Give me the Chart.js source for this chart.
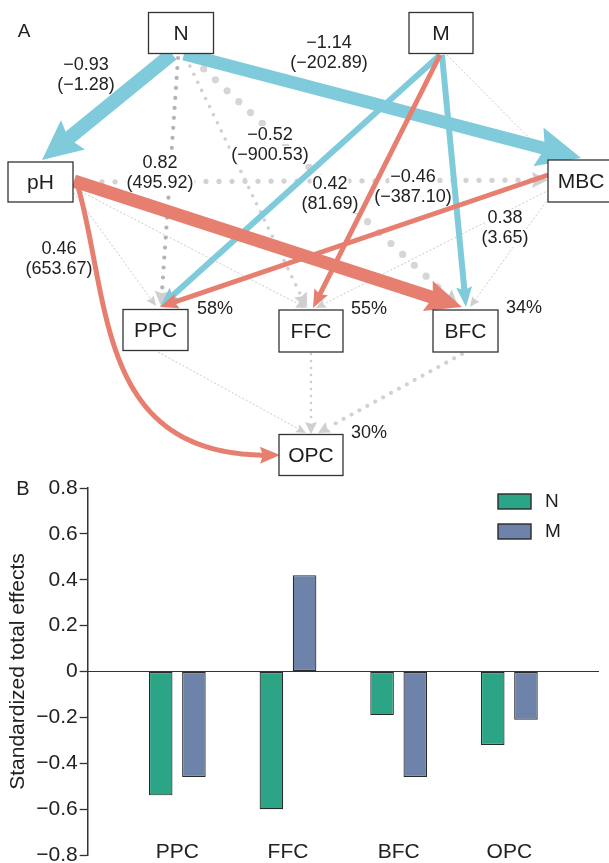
<!DOCTYPE html>
<html>
<head>
<meta charset="utf-8">
<script src="https://cdn.jsdelivr.net/npm/chart.js@4/dist/chart.umd.min.js"></script>
<style>
  html, body { margin: 0; padding: 0; background: #fff; width: 609px; height: 863px; overflow: hidden; }
  #pathCanvas { position: absolute; left: 0; top: 0; }
  #barCanvas  { position: absolute; left: 0; top: 470px; background: transparent; }
</style>
</head>
<body>
<canvas id="pathCanvas" width="609" height="480"></canvas>
<canvas id="barCanvas" width="609" height="393"></canvas>
<script>
// ===== Panel B: standardized total effects of N and M =====
const responses = ['PPC', 'FFC', 'BFC', 'OPC'];
const effectN = [-0.54, -0.60, -0.19, -0.32];
const effectM = [-0.46, 0.42, -0.46, -0.21];
const yTicks = [-0.8, -0.6, -0.4, -0.2, 0, 0.2, 0.4, 0.6, 0.8];

// ===== Panel A: structural equation path model =====
const nodeNames = ['N', 'M', 'pH', 'MBC', 'PPC', 'FFC', 'BFC', 'OPC'];
const r2Nodes = ['PPC', 'FFC', 'BFC', 'OPC'];
const r2Percent = [58, 55, 34, 30];
const pathFrom = ['N', 'N', 'M', 'M', 'pH', 'M', 'MBC', 'pH',
                  'N', 'N', 'N', 'pH', 'FFC', 'BFC',
                  'M', 'pH', 'pH', 'MBC', 'MBC', 'PPC'];
const pathTo   = ['pH', 'MBC', 'PPC', 'BFC', 'BFC', 'FFC', 'PPC', 'OPC',
                  'PPC', 'FFC', 'BFC', 'MBC', 'OPC', 'OPC',
                  'MBC', 'PPC', 'FFC', 'FFC', 'BFC', 'OPC'];
// standardized and (unstandardized) coefficients; null = non-significant path
const pathStd   = [-0.93, -1.14, -0.52, -0.46, 0.82, 0.42, 0.38, 0.46,
                   null, null, null, null, null, null, null, null, null, null, null, null];
const pathUnstd = [-1.28, -202.89, -900.53, -387.10, 495.92, 81.69, 3.65, 653.67,
                   null, null, null, null, null, null, null, null, null, null, null, null];

// ----- diagram layout (diagram units map 1:1 onto the canvas) -----
const FONT = '"Liberation Sans", Arial, Helvetica, sans-serif';
const BLUE = '#80cbdb', RED = '#e67f6f', HEADGREY = '#cfcfd2';
const nodeBox = {            // cx, cy, w, h
  N:   [181, 33, 65, 41],
  M:   [441, 33, 64, 41],
  pH:  [40.5, 182, 65, 40],
  MBC: [581, 181, 66, 42],
  PPC: [155.5, 330, 65, 41],
  FFC: [311, 331, 64, 42],
  BFC: [465.5, 331, 65, 42],
  OPC: [311, 455, 64, 41]
};
const pathStyle = [
  { p: [172, 54, 42, 160],  w: 14, head: [40, 38] },
  { p: [184, 54, 581, 158], w: 13, head: [44, 40] },
  { p: [440, 55, 160, 307], w: 6,  head: [20, 16] },
  { p: [442, 55, 466, 307], w: 6,  head: [20, 16] },
  { p: [74, 181, 462, 307], w: 13, head: [36, 32] },
  { p: [440, 55, 313, 308], w: 5,  head: [18, 15] },
  { p: [548, 175, 160, 307], w: 5, head: [18, 15] },
  { p: [77, 183, 280, 455], c: [112, 305, 95, 462], w: 5, head: [20, 17] },
  { p: [178, 58, 161, 306], dot: [2.1, 10], col: '#b4b4b8', head: [15, 15] },
  { p: [186, 58, 307, 308], dot: [1.8, 9],  col: '#d0d0d2', head: [15, 14] },
  { p: [192, 58, 458, 306], dot: [3.6, 16], col: '#d6d6d8', head: [16, 16] },
  { p: [76, 182, 548, 180], dot: [2.6, 13], col: '#d2d2d4', head: [16, 16] },
  { p: [311, 354, 311, 434], dot: [1.3, 7], col: '#cdcdcf', head: [12, 12] },
  { p: [462, 354, 318, 433], dot: [2.1, 9], col: '#d2d2d4', head: [12, 12] },
  { p: [447, 55, 551, 160], thin: true, head: [10, 9] },
  { p: [74, 193, 156, 306], thin: true, head: [10, 9] },
  { p: [74, 188, 306, 308], thin: true, head: [10, 9] },
  { p: [549, 190, 316, 308], thin: true, head: [10, 9] },
  { p: [551, 195, 470, 307], thin: true, head: [10, 9] },
  { p: [158, 352, 306, 433], thin: true, head: [10, 9] }
];
const coefLabelPos = [[86, 75], [329, 53], [270, 145], [413, 187], [160, 173], [330, 194], [505, 228], [59, 259]];
const r2LabelPos = { PPC: [215, 309], FFC: [369, 309], BFC: [524, 308], OPC: [369, 433] };

function fmt(v) { return (v < 0 ? '\u2212' : '') + Math.abs(v).toFixed(2); }

const pathDiagram = {
  id: 'pathDiagram',
  afterDatasetsDraw(chart) {
    const ctx = chart.ctx;
    const sx = v => chart.scales.x.getPixelForValue(v);
    const sy = v => chart.scales.y.getPixelForValue(v);
    const P = (x, y) => [sx(x), sy(y)];

    function head(tip, dir, L, W, color) {
      const bx = tip[0] - dir[0] * L, by = tip[1] - dir[1] * L;
      const nx = -dir[1], ny = dir[0];
      ctx.beginPath();
      ctx.moveTo(tip[0], tip[1]);
      ctx.lineTo(bx + nx * W / 2, by + ny * W / 2);
      ctx.lineTo(tip[0] - dir[0] * L * 0.85, tip[1] - dir[1] * L * 0.85);
      ctx.lineTo(bx - nx * W / 2, by - ny * W / 2);
      ctx.closePath();
      ctx.fillStyle = color;
      ctx.fill();
    }

    function drawPath(i, pass) {
      const s = pathStyle[i];
      const std = pathStd[i];
      const a = P(s.p[0], s.p[1]), b = P(s.p[2], s.p[3]);
      const solid = std !== null;
      if ((pass === 0) === solid) return;
      const color = solid ? (std < 0 ? BLUE : RED) : (s.col || '#c4c4c6');
      const [L, W] = s.head;
      ctx.save();
      if (s.c) {
        const c1 = P(s.c[0], s.c[1]), c2 = P(s.c[2], s.c[3]);
        const pts = [];
        for (let k = 0; k <= 200; k++) {
          const t = k / 200, u = 1 - t;
          pts.push([u*u*u*a[0] + 3*u*u*t*c1[0] + 3*u*t*t*c2[0] + t*t*t*b[0],
                    u*u*u*a[1] + 3*u*u*t*c1[1] + 3*u*t*t*c2[1] + t*t*t*b[1]]);
        }
        ctx.beginPath();
        ctx.moveTo(pts[0][0], pts[0][1]);
        let last = pts[0];
        for (const q of pts) {
          if (Math.hypot(b[0] - q[0], b[1] - q[1]) < L * 0.8) break;
          ctx.lineTo(q[0], q[1]); last = q;
        }
        ctx.strokeStyle = color; ctx.lineWidth = s.w; ctx.lineJoin = 'round';
        ctx.stroke();
        const d = Math.hypot(b[0] - last[0], b[1] - last[1]);
        head(b, [(b[0] - last[0]) / d, (b[1] - last[1]) / d], L, W, color);
        ctx.restore();
        return;
      }
      const len = Math.hypot(b[0] - a[0], b[1] - a[1]);
      const dir = [(b[0] - a[0]) / len, (b[1] - a[1]) / len];
      const end = len - L * 0.8;
      if (solid) {
        ctx.beginPath();
        ctx.moveTo(a[0], a[1]);
        ctx.lineTo(a[0] + dir[0] * end, a[1] + dir[1] * end);
        ctx.strokeStyle = color; ctx.lineWidth = s.w; ctx.lineCap = 'butt';
        ctx.stroke();
        head(b, dir, L, W, color);
      } else if (s.dot) {
        const [r, gap] = s.dot;
        ctx.fillStyle = color;
        for (let d = 0; d <= len - L; d += gap) {
          ctx.beginPath();
          ctx.arc(a[0] + dir[0] * d, a[1] + dir[1] * d, r, 0, Math.PI * 2);
          ctx.fill();
        }
        head(b, dir, L, W, HEADGREY);
      } else {
        ctx.beginPath();
        ctx.setLineDash([2, 2]);
        ctx.moveTo(a[0], a[1]);
        ctx.lineTo(a[0] + dir[0] * (len - L * 0.8), a[1] + dir[1] * (len - L * 0.8));
        ctx.strokeStyle = '#c4c4c7'; ctx.lineWidth = 0.9;
        ctx.stroke();
        head(b, dir, L, W, HEADGREY);
      }
      ctx.restore();
    }

    // text helper with white backing
    function label(txt, x, y, size) {
      ctx.font = size + 'px ' + FONT;
      const w = ctx.measureText(txt).width;
      ctx.fillStyle = '#fff';
      ctx.fillRect(x - w / 2 - 1, y - size * 0.5, w + 2, size);
      ctx.fillStyle = '#222';
      ctx.textAlign = 'center';
      ctx.textBaseline = 'middle';
      ctx.fillText(txt, x, y);
    }

    // non-significant paths underneath
    for (let i = 0; i < pathFrom.length; i++) drawPath(i, 0);

    // coefficient labels
    for (let i = 0; i < pathStd.length; i++) {
      if (pathStd[i] === null) continue;
      const [x, y] = P(coefLabelPos[i][0], coefLabelPos[i][1]);
      label(fmt(pathStd[i]), x, y - 10, 18);
      label('(' + fmt(pathUnstd[i]) + ')', x, y + 10, 18);
    }

    // significant paths on top
    for (let i = 0; i < pathFrom.length; i++) drawPath(i, 1);

    // nodes
    ctx.save();
    for (const name of nodeNames) {
      const [cx, cy, w, h] = nodeBox[name];
      const [x0, y0] = P(cx - w / 2, cy - h / 2);
      const [x1, y1] = P(cx + w / 2, cy + h / 2);
      ctx.fillStyle = '#fff';
      ctx.fillRect(x0, y0, x1 - x0, y1 - y0);
      ctx.strokeStyle = '#333'; ctx.lineWidth = 1.3;
      ctx.strokeRect(x0, y0, x1 - x0, y1 - y0);
      ctx.fillStyle = '#1e1e1e';
      ctx.font = '21px ' + FONT;
      ctx.textAlign = 'center'; ctx.textBaseline = 'middle';
      const [tx, ty] = P(cx, cy);
      ctx.fillText(name, tx, ty + 1);
    }
    ctx.restore();

    // explained variance
    r2Nodes.forEach((n, i) => {
      const [x, y] = P(r2LabelPos[n][0], r2LabelPos[n][1]);
      label(r2Percent[i] + '%', x, y, 18);
    });

    // panel letter
    ctx.fillStyle = '#222';
    ctx.font = '19px ' + FONT;
    ctx.textAlign = 'center'; ctx.textBaseline = 'middle';
    ctx.fillText('A', sx(24), sy(32));
  }
};

new Chart(document.getElementById('pathCanvas'), {
  type: 'scatter',
  data: {
    datasets: [{
      data: nodeNames.map(n => ({ x: nodeBox[n][0], y: nodeBox[n][1] })),
      pointRadius: 0
    }]
  },
  options: {
    responsive: false,
    animation: false,
    devicePixelRatio: 1,
    layout: { padding: 0 },
    plugins: { legend: { display: false }, tooltip: { enabled: false } },
    scales: {
      x: { type: 'linear', min: 0, max: 609, display: false },
      y: { type: 'linear', min: 0, max: 480, reverse: true, display: false }
    }
  },
  plugins: [pathDiagram]
});

// ----- Panel B -----
const seriesColors = { N: '#2ca586', M: '#6e83a9' };
const PAD_RIGHT = 10;

const panelB = {
  id: 'panelB',
  beforeDatasetsDraw(chart) {
    // zero reference line from the value axis to the right edge of the plot
    const ctx = chart.ctx;
    const ys = chart.scales.y;
    const y0 = ys.getPixelForValue(0);
    ctx.save();
    ctx.strokeStyle = '#333';
    ctx.lineWidth = 1.2;
    ctx.beginPath();
    ctx.moveTo(ys.right, y0);
    ctx.lineTo(chart.chartArea.right, y0);
    ctx.stroke();
    ctx.restore();
  },
  afterDraw(chart) {
    const ctx = chart.ctx;
    ctx.save();
    ctx.fillStyle = '#222';
    ctx.font = '20px ' + FONT;
    ctx.textAlign = 'center'; ctx.textBaseline = 'middle';
    ctx.fillText('B', 23, 19);
    // legend
    chart.data.datasets.forEach((ds, i) => {
      const y = 24 + i * 30;
      ctx.fillStyle = ds.backgroundColor;
      ctx.fillRect(498, y, 33, 15);
      ctx.strokeStyle = '#2a2a2a'; ctx.lineWidth = 1.4;
      ctx.strokeRect(498, y, 33, 15);
      ctx.fillStyle = '#1e1e1e';
      ctx.font = '19px ' + FONT;
      ctx.textAlign = 'left'; ctx.textBaseline = 'middle';
      ctx.fillText(ds.label, 545, y + 8);
    });
    ctx.restore();
  }
};

const toPoints = vals => vals.map((v, i) => ({ x: i + 1, y: v }));

new Chart(document.getElementById('barCanvas'), {
  type: 'bar',
  data: {
    datasets: [
      { label: 'N', data: toPoints(effectN), backgroundColor: seriesColors.N },
      { label: 'M', data: toPoints(effectM), backgroundColor: seriesColors.M }
    ]
  },
  options: {
    responsive: false,
    animation: false,
    devicePixelRatio: 1,
    layout: { padding: { left: 6, top: 18, right: PAD_RIGHT, bottom: 8 } },
    datasets: {
      bar: {
        categoryPercentage: 0.6,
        barPercentage: 0.71,
        borderColor: '#2a2a2a',
        borderWidth: 1.2,
        borderSkipped: false
      }
    },
    plugins: { legend: { display: false }, tooltip: { enabled: false } },
    scales: {
      x: {
        type: 'linear',
        min: 0.19,
        max: 4.81,
        offset: false,
        position: { y: -0.732 },
        afterBuildTicks: s => { s.ticks = responses.map((_, i) => ({ value: i + 1 })); },
        afterFit: s => { s.paddingLeft = 0; s.paddingRight = 0; },
        ticks: {
          callback: v => responses[Math.round(v) - 1] || '',
          font: { family: FONT, size: 21 },
          color: '#222',
          padding: 0,
          maxRotation: 0
        },
        grid: { display: false, drawTicks: false },
        border: { display: false }
      },
      y: {
        type: 'linear',
        min: -0.8,
        max: 0.8,
        afterBuildTicks: s => { s.ticks = yTicks.map(v => ({ value: v })); },
        afterFit: s => { s.paddingTop = 0; s.paddingBottom = 0; },
        ticks: {
          callback: v => Math.abs(v) < 1e-9 ? '0' : (v < 0 ? '\u2212' : '') + Math.abs(v).toFixed(1),
          font: { family: FONT, size: 21 },
          color: '#222',
          padding: 2
        },
        grid: {
          drawOnChartArea: false,
          color: '#333',
          tickColor: '#333',
          tickLength: 8,
          tickWidth: 1.3
        },
        border: { display: true, color: '#333', width: 1.5 },
        title: {
          display: true,
          text: 'Standardized total effects',
          font: { family: FONT, size: 21 },
          color: '#222',
          padding: { top: 0, bottom: 3 }
        }
      }
    }
  },
  plugins: [panelB]
});
</script>
</body>
</html>
